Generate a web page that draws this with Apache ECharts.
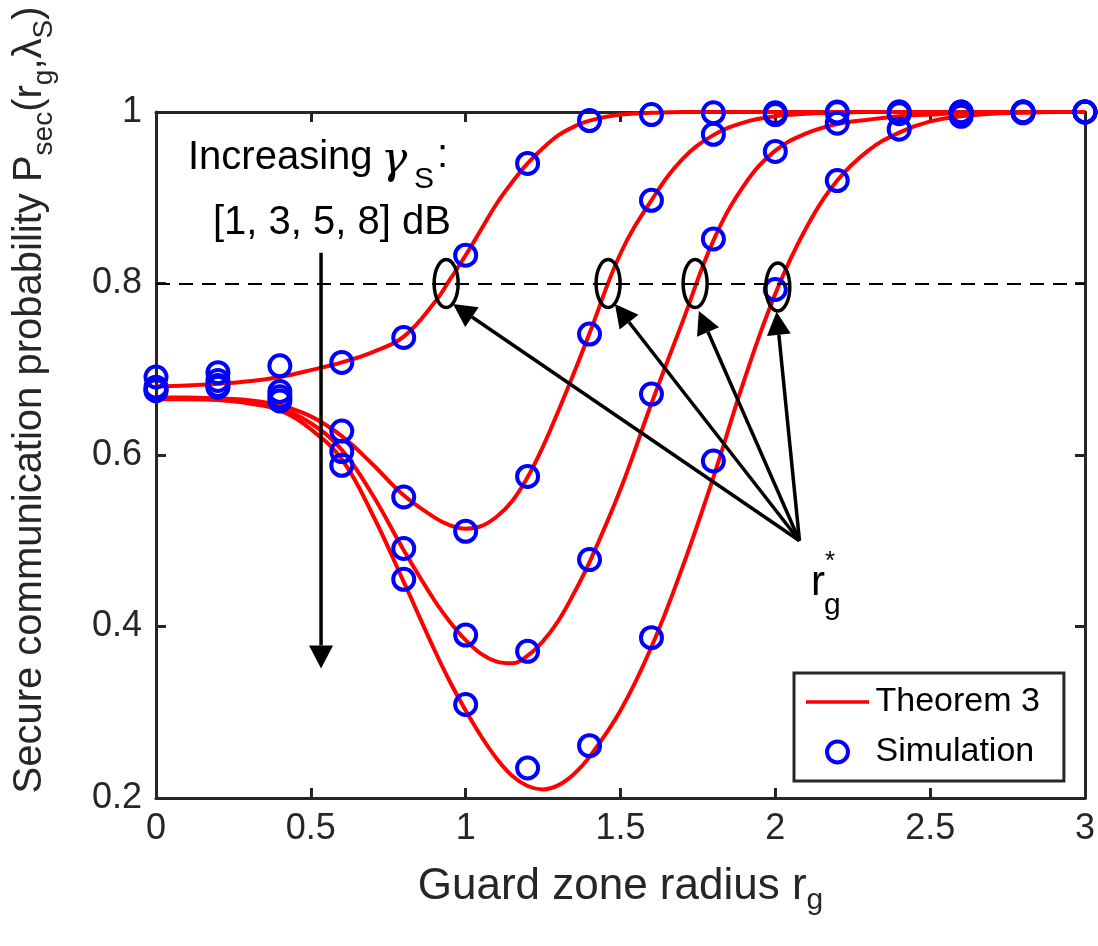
<!DOCTYPE html>
<html>
<head>
<meta charset="utf-8">
<script src="https://cdn.jsdelivr.net/npm/echarts@6/dist/echarts.min.js"></script>
<style>
  html, body { margin: 0; padding: 0; background: #fff; }
  #main { width: 1098px; height: 946px; }
</style>
</head>
<body>
<div id="main"></div>
<script>
// simulation points (one per gamma_S value)
var simX = [0, 0.2, 0.4, 0.6, 0.8, 1.0, 1.2, 1.4, 1.6, 1.8, 2.0, 2.2, 2.4, 2.6, 2.8, 3.0];
var sim1dB = [0.691, 0.696, 0.704, 0.708, 0.737, 0.833, 0.940, 0.990, 0.997, 0.999, 0.999, 1.0, 1.0, 1.0, 1.0, 1.0];
var sim3dB = [0.679, 0.687, 0.674, 0.628, 0.551, 0.511, 0.575, 0.741, 0.897, 0.974, 0.997, 0.999, 1.0, 1.0, 1.0, 1.0];
var sim5dB = [0.676, 0.681, 0.668, 0.604, 0.491, 0.390, 0.371, 0.478, 0.671, 0.852, 0.954, 0.987, 0.998, 0.999, 1.0, 1.0];
var sim8dB = [0.675, 0.679, 0.663, 0.588, 0.455, 0.309, 0.235, 0.261, 0.387, 0.593, 0.793, 0.920, 0.980, 0.995, 0.999, 1.0];

// analytical curves (Theorem 3), read every 0.1 with extra readings around the dips
var thX = [0, 0.1, 0.2, 0.3, 0.4, 0.5, 0.6, 0.7, 0.8, 0.9, 0.95, 1.0, 1.05, 1.1, 1.15, 1.2, 1.25, 1.3, 1.35, 1.4, 1.5,
           1.6, 1.7, 1.8, 1.9, 2.0, 2.1, 2.2, 2.3, 2.4, 2.5, 2.6, 2.7, 2.8, 2.9, 3.0];
var th1dB = [0.680, 0.681, 0.683, 0.686, 0.691, 0.699, 0.708, 0.720, 0.738, 0.778, 0.805, 0.833, 0.863, 0.893, 0.918, 0.940, 0.958, 0.973, 0.983, 0.990, 0.997,
             0.999, 1.0, 1.0, 1.0, 1.0, 1.0, 1.0, 1.0, 1.0, 1.0, 1.0, 1.0, 1.0, 1.0, 1.0];
var th3dB = [0.667, 0.667, 0.666, 0.664, 0.658, 0.645, 0.622, 0.589, 0.553, 0.527, 0.518, 0.514, 0.517, 0.528, 0.546, 0.574, 0.610, 0.652, 0.696, 0.742, 0.835,
             0.897, 0.945, 0.973, 0.988, 0.995, 0.998, 0.999, 1.0, 1.0, 1.0, 1.0, 1.0, 1.0, 1.0, 1.0];
var th5dB = [0.666, 0.666, 0.665, 0.662, 0.655, 0.637, 0.606, 0.553, 0.489, 0.430, 0.405, 0.384, 0.368, 0.359, 0.357, 0.366, 0.383, 0.407, 0.439, 0.475, 0.560,
             0.660, 0.755, 0.850, 0.915, 0.955, 0.975, 0.986, 0.991, 0.995, 0.997, 0.999, 1.0, 1.0, 1.0, 1.0];
var th8dB = [0.665, 0.665, 0.664, 0.660, 0.652, 0.630, 0.595, 0.530, 0.452, 0.372, 0.335, 0.302, 0.272, 0.246, 0.226, 0.214, 0.210, 0.215, 0.228, 0.248, 0.302,
             0.376, 0.469, 0.574, 0.688, 0.788, 0.865, 0.920, 0.955, 0.976, 0.989, 0.995, 0.998, 0.999, 1.0, 1.0];

var threshold = 0.8;

// annotation anchors in data coordinates
var optPoints = [[0.937, 0.8], [1.46, 0.8], [1.741, 0.8], [2.008, 0.796]];
var arrowTips = [[0.959, 0.776], [1.482, 0.776], [1.753, 0.768], [2.004, 0.767]];
var arrowTail = [2.078, 0.5];
var downArrow = [[0.533, 0.836], [0.533, 0.351]];

var AX = '#262626';
var SANS = "'Liberation Sans', Arial, Helvetica, sans-serif";

function pairs(xs, ys) {
  return xs.map(function (x, i) { return [x, ys[i]]; });
}

function theorySeries(ys) {
  return {
    name: 'Theorem 3', type: 'line', data: pairs(thX, ys),
    smooth: 0.4, symbol: 'none', z: 3,
    itemStyle: { color: '#ff0000' },
    lineStyle: { color: '#ff0000', width: 4 }
  };
}

var ringStyle = { color: 'rgba(0,0,0,0)', borderColor: '#0000ff', borderWidth: 4, opacity: 1 };

function simSeries(ys) {
  return {
    name: 'Simulation', type: 'scatter', data: pairs(simX, ys),
    symbol: 'circle', symbolSize: 21, z: 4,
    itemStyle: ringStyle
  };
}

var axisCommon = {
  axisLine: { show: true, onZero: false, lineStyle: { color: AX, width: 3 } },
  axisTick: { show: true, inside: true, length: 10, lineStyle: { color: AX, width: 3 } },
  splitLine: { show: false }
};

var chart = echarts.init(document.getElementById('main'));

var series = [
  theorySeries(th1dB), theorySeries(th3dB), theorySeries(th5dB), theorySeries(th8dB),
  simSeries(sim1dB), simSeries(sim3dB), simSeries(sim5dB), simSeries(sim8dB)
];
series[0].markLine = {
  silent: true, symbol: 'none', label: { show: false },
  lineStyle: { color: '#000', width: 2, type: [14, 9] },
  data: [{ yAxis: threshold }]
};

// legend line icon: thin bar in the middle of the icon box (corner dots only fix the box)
var lineIcon = 'path://M0,0L0.01,0L0,0.01Z M0,9.2L66,9.2L66,12.8L0,12.8Z M66,22L65.99,22L66,21.99Z';

chart.setOption({
  animation: false,
  backgroundColor: '#fff',
  grid: { left: 156, right: 12, top: 112, bottom: 148 },
  xAxis: [
    Object.assign({
      type: 'value', min: 0, max: 3, interval: 0.5, position: 'bottom',
      axisLabel: { margin: 13, color: AX, fontFamily: SANS, fontSize: 36 },
      name: 'Guard zone radius r{s|g}', nameLocation: 'middle', nameGap: 60,
      nameTextStyle: {
        color: AX, fontFamily: SANS, fontSize: 44, lineHeight: 58,
        rich: { s: { fontFamily: SANS, fontSize: 30, lineHeight: 30, verticalAlign: 'bottom', color: AX } }
      }
    }, axisCommon),
    Object.assign({
      type: 'value', min: 0, max: 3, interval: 0.5, position: 'top',
      axisLabel: { show: false }
    }, axisCommon)
  ],
  yAxis: [
    Object.assign({
      type: 'value', min: 0.2, max: 1, interval: 0.2, position: 'left',
      axisLabel: { margin: 14, color: AX, fontFamily: SANS, fontSize: 36 }
    }, axisCommon),
    Object.assign({
      type: 'value', min: 0.2, max: 1, interval: 0.2, position: 'right',
      axisLabel: { show: false }
    }, axisCommon)
  ],
  legend: {
    data: [
      { name: 'Theorem 3', icon: lineIcon, itemStyle: { color: '#ff0000' } },
      { name: 'Simulation', icon: 'circle', itemStyle: ringStyle }
    ],
    orient: 'vertical', left: 794, top: 673,
    itemWidth: 66, itemHeight: 21, itemGap: 14,
    padding: [11, 24, 11, 12],
    borderColor: AX, borderWidth: 3, backgroundColor: '#fff',
    textStyle: { color: '#000', fontFamily: SANS, fontSize: 34, lineHeight: 36 }
  },
  series: series
});

function px(p) {
  return chart.convertToPixel({ xAxisIndex: 0, yAxisIndex: 0 }, p);
}

function arrow(p0, p1) {
  var a = px(p0), b = px(p1);
  var dx = b[0] - a[0], dy = b[1] - a[1];
  var L = Math.sqrt(dx * dx + dy * dy);
  var ux = dx / L, uy = dy / L, head = 23, half = 12;
  var bx = b[0] - ux * head, by = b[1] - uy * head;
  return [
    { type: 'line', z: 50, shape: { x1: a[0], y1: a[1], x2: bx, y2: by },
      style: { stroke: '#000', lineWidth: 3.5 } },
    { type: 'polygon', z: 50,
      shape: { points: [[b[0], b[1]], [bx - uy * half, by + ux * half], [bx + uy * half, by - ux * half]] },
      style: { fill: '#000' } }
  ];
}

var g = [];
optPoints.forEach(function (p) {
  var c = px(p);
  g.push({ type: 'ellipse', z: 50, shape: { cx: c[0], cy: c[1], rx: 12, ry: 24 },
    style: { fill: 'none', stroke: '#000', lineWidth: 3.5 } });
});
arrowTips.forEach(function (t) { g = g.concat(arrow(arrowTail, t)); });
g = g.concat(arrow(downArrow[0], downArrow[1]));

function txt(x, y, text, size, extra) {
  var st = { text: text, fill: '#000', fontFamily: SANS, fontSize: size, align: 'left', verticalAlign: 'middle' };
  if (extra) Object.assign(st, extra);
  return { type: 'text', z: 60, x: x, y: y, style: st };
}

g.push(txt(188, 158, 'Increasing', 40));
g.push(txt(381, 162, 'γ', 44, { fontFamily: "'DejaVu Serif', 'Liberation Serif', serif", fontStyle: 'italic', fontWeight: 'normal' }));
g.push(txt(414, 180, 'S', 30));
g.push(txt(437, 156, ':', 40));
g.push(txt(213, 223, '[1, 3, 5, 8] dB', 40));

g.push(txt(811, 583, 'r', 42));
g.push(txt(825, 562, '*', 26));
g.push(txt(824, 606, 'g', 30));

// y axis title
g.push({
  type: 'text', z: 60, x: 30, y: 400, rotation: Math.PI / 2,
  style: {
    text: 'Secure communication probability P{s|sec}(r{s|g},λ{s|S})',
    fill: AX, fontFamily: SANS, fontSize: 40, lineHeight: 56,
    align: 'center', verticalAlign: 'middle',
    rich: {
      s: { fontFamily: SANS, fontSize: 28, lineHeight: 28, verticalAlign: 'bottom', fill: AX }
    }
  }
});

chart.setOption({ graphic: g });
</script>
</body>
</html>
